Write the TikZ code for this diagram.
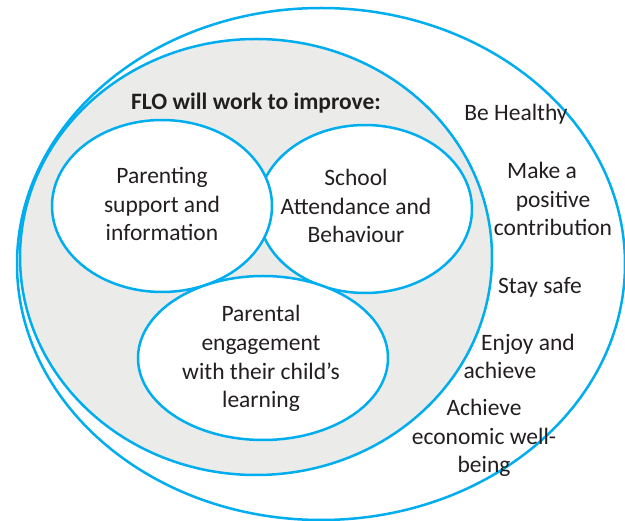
\documentclass[tikz,border=0pt]{standalone}
\usepackage{fontspec}
\setmainfont{Carlito}
\usetikzlibrary{shapes.geometric}
\definecolor{flocyan}{HTML}{00AEEF}
\definecolor{flogray}{HTML}{EBEBEA}
\definecolor{flotext}{HTML}{231F20}
\begin{document}
\begin{tikzpicture}[x=1pt,y=-1pt,
  ring/.style={draw=flocyan, line width=2.5pt},
  bubble/.style={ring, fill=white, ellipse, inner sep=0pt},
  lbl/.style={text=flotext, font=\fontsize{23.5}{28.8}\selectfont, align=center, inner sep=0pt, anchor=base}]
\useasboundingbox (0,0) rectangle (625,521);
\fill[white] (0,0) rectangle (625,521);
% outer ring and grey field
\draw[ring, fill=white] (321,264) ellipse [x radius=304, y radius=256];
\draw[ring, fill=flogray] (256,257) ellipse [x radius=236, y radius=218];
% three bubbles
\node[bubble, minimum width=214pt, minimum height=168pt] (school) at (365,209) {};
\node[bubble, minimum width=220pt, minimum height=172pt] (parenting) at (162,206) {};
\node[bubble, minimum width=250pt, minimum height=164pt] (parental) at (263,358) {};
% texts (base anchor = baseline of the last line)
\node[lbl, font=\fontsize{23.5}{28.8}\selectfont\bfseries] (title) at (256,110) {FLO will work to improve:};
\node[lbl] (tparenting) at (162,241) {Parenting\\support and\\information};
\node[lbl] (tschool) at (356,243) {School\\Attendance and\\Behaviour};
\node[lbl] (tparental) at (261,408) {Parental\\engagement\\with their child’s\\learning};
\node[lbl] (healthy) at (516,121) {Be Healthy};
\node[lbl] (contrib) at (553,236) {Make a\hspace*{22pt}\\positive\\contribution};
\node[lbl] (safe) at (540,294) {Stay safe};
\node[lbl] (enjoy) at (528,351) {Enjoy and};
\node[lbl] (achieve) at (500,379) {achieve};
\node[lbl] (econ) at (484,473) {Achieve\\economic well-\\being};
\end{tikzpicture}
\end{document}
